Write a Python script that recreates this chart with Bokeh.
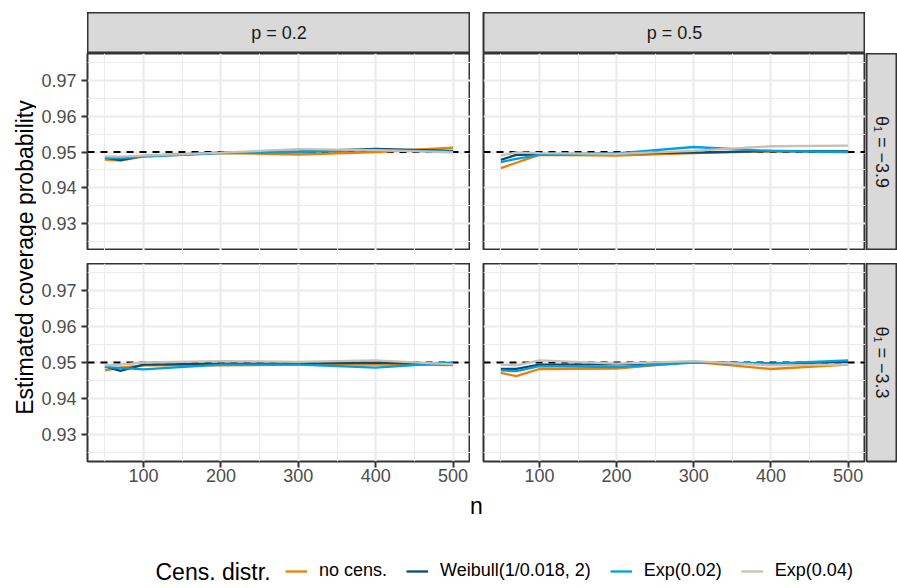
import math
from bokeh.plotting import figure
from bokeh.layouts import column, row
from bokeh.models import (Range1d, FixedTicker, NumeralTickFormatter, Span, Label,
                          Legend, LegendItem, Spacer)
from bokeh.embed import file_html
from bokeh.resources import INLINE

# ---- data -------------------------------------------------------------
n = [50, 70, 100, 200, 300, 400, 500]

cens_labels = ["no cens.", "Weibull(1/0.018, 2)", "Exp(0.02)", "Exp(0.04)"]
cens_colors = ["#EE7F00", "#0B4A72", "#00A0E3", "#C8C0B2"]

# p = 0.2, theta1 = -3.9
p02_t39_nocens = [0.9479, 0.9476, 0.9488, 0.9497, 0.9493, 0.9500, 0.9512]
p02_t39_weibull = [0.9484, 0.9477, 0.9489, 0.9498, 0.9502, 0.9509, 0.9503]
p02_t39_exp002 = [0.9483, 0.9483, 0.9487, 0.9497, 0.9500, 0.9506, 0.9501]
p02_t39_exp004 = [0.9488, 0.9487, 0.9490, 0.9498, 0.9508, 0.9505, 0.9499]

# p = 0.5, theta1 = -3.9
p05_t39_nocens = [0.9455, 0.9470, 0.9492, 0.9490, 0.9497, 0.9502, 0.9502]
p05_t39_weibull = [0.9478, 0.9492, 0.9493, 0.9496, 0.9498, 0.9503, 0.9502]
p05_t39_exp002 = [0.9472, 0.9481, 0.9492, 0.9496, 0.9514, 0.9503, 0.9500]
p05_t39_exp004 = [0.9490, 0.9499, 0.9497, 0.9495, 0.9503, 0.9516, 0.9518]

# p = 0.2, theta1 = -3.3
p02_t33_nocens = [0.9478, 0.9486, 0.9492, 0.9492, 0.9494, 0.9495, 0.9493]
p02_t33_weibull = [0.9489, 0.9477, 0.9494, 0.9497, 0.9497, 0.9500, 0.9495]
p02_t33_exp002 = [0.9487, 0.9485, 0.9481, 0.9494, 0.9494, 0.9486, 0.9500]
p02_t33_exp004 = [0.9492, 0.9494, 0.9500, 0.9504, 0.9502, 0.9506, 0.9495]

# p = 0.5, theta1 = -3.3
p05_t33_nocens = [0.9471, 0.9462, 0.9482, 0.9483, 0.9502, 0.9482, 0.9494]
p05_t33_weibull = [0.9482, 0.9482, 0.9494, 0.9495, 0.9500, 0.9497, 0.9502]
p05_t33_exp002 = [0.9478, 0.9476, 0.9490, 0.9487, 0.9500, 0.9497, 0.9506]
p05_t33_exp004 = [0.9494, 0.9492, 0.9506, 0.9497, 0.9504, 0.9492, 0.9494]

nominal = 0.95
col_labels = ["p = 0.2", "p = 0.5"]
row_labels = ["\u03b8\u2081 = \u22123.9", "\u03b8\u2081 = \u22123.3"]

x_ticks = [100, 200, 300, 400, 500]
x_minor = [50, 150, 250, 350, 450]
y_ticks = [0.93, 0.94, 0.95, 0.96, 0.97]
y_minor = [0.925, 0.935, 0.945, 0.955, 0.965, 0.975]

# ---- styling ----------------------------------------------------------
FONT = "Liberation Sans"
GRID = "#EBEBEB"
BORDER = "#333333"
STRIP = "#D9D9D9"

LEFT_W = 36          # y-title column
AXIS_W = 51          # y tick-label area
GAP = 13
FW_L, FW_R = 383, 382
STRIP_W = 31
STRIP_H = 41
FH_TOP, FH_BOT = 197, 198
AXIS_H = 30
TOP_PAD = 12
TOTAL_W, TOTAL_H = 897, 588


def panel(series, left_axis, bottom_axis, frame_h, min_left):
    p = figure(frame_width=FW_L if left_axis else FW_R, frame_height=frame_h,
               x_range=Range1d(27.5, 522.5), y_range=Range1d(0.9225, 0.9775),
               x_axis_location="below" if bottom_axis else None,
               y_axis_location="left" if left_axis else None,
               toolbar_location=None, output_backend="svg",
               min_border_left=min_left, min_border_right=0, min_border_top=0,
               min_border_bottom=AXIS_H if bottom_axis else 0)
    p.background_fill_color = "white"
    p.border_fill_color = "white"
    p.outline_line_color = BORDER
    p.outline_line_width = 2

    p.xgrid.ticker = FixedTicker(ticks=x_ticks, minor_ticks=x_minor)
    p.ygrid.ticker = FixedTicker(ticks=y_ticks, minor_ticks=y_minor)
    for g in (p.xgrid, p.ygrid):
        g.grid_line_color = GRID
        g.grid_line_width = 2.2
        g.minor_grid_line_color = GRID
        g.minor_grid_line_width = 1.1

    axes = []
    if left_axis:
        p.yaxis.ticker = FixedTicker(ticks=y_ticks, minor_ticks=y_minor)
        p.yaxis.formatter = NumeralTickFormatter(format="0.00")
        p.yaxis.major_label_standoff = 5
        axes.append(p.yaxis)
    if bottom_axis:
        p.xaxis.ticker = FixedTicker(ticks=x_ticks, minor_ticks=x_minor)
        p.xaxis.formatter = NumeralTickFormatter(format="0")
        p.xaxis.major_label_standoff = 1
        axes.append(p.xaxis)
    for ax in axes:
        ax.axis_line_color = None
        ax.major_tick_line_color = BORDER
        ax.major_tick_line_width = 2
        ax.major_tick_out = 6
        ax.major_tick_in = 0
        ax.minor_tick_line_color = None
        ax.major_label_text_font = FONT
        ax.major_label_text_font_size = "18px"
        ax.major_label_text_color = "#4D4D4D"

    ref = Span(location=nominal, dimension="width", line_color="black",
               line_width=1.8, line_dash="7 6", level="underlay")
    p.add_layout(ref)

    for vals, c in zip(series, cens_colors):
        p.line(n, vals, line_color=c, line_width=2.3)
    return p


def strip(text, fw, fh, vertical=False, min_left=0, min_bottom=0):
    s = figure(frame_width=fw, frame_height=fh,
               x_range=Range1d(0, 1), y_range=Range1d(0, 1),
               x_axis_location=None, y_axis_location=None,
               toolbar_location=None, output_backend="svg",
               min_border_left=min_left, min_border_right=0,
               min_border_top=0, min_border_bottom=min_bottom)
    s.grid.visible = False
    s.background_fill_color = STRIP
    s.border_fill_color = "white"
    s.outline_line_color = BORDER
    s.outline_line_width = 2
    s.add_layout(Label(x=0.5, y=0.5, text=text, text_align="center",
                       text_baseline="middle",
                       angle=-math.pi / 2 if vertical else 0,
                       text_font=FONT, text_font_size="18px",
                       text_color="#1A1A1A"))
    return s


tl = panel([p02_t39_nocens, p02_t39_weibull, p02_t39_exp002, p02_t39_exp004],
           True, False, FH_TOP, AXIS_W)
tr = panel([p05_t39_nocens, p05_t39_weibull, p05_t39_exp002, p05_t39_exp004],
           False, False, FH_TOP, GAP)
bl = panel([p02_t33_nocens, p02_t33_weibull, p02_t33_exp002, p02_t33_exp004],
           True, True, FH_BOT, AXIS_W)
br = panel([p05_t33_nocens, p05_t33_weibull, p05_t33_exp002, p05_t33_exp004],
           False, True, FH_BOT, GAP)

top_strips = row(Spacer(width=AXIS_W, height=STRIP_H),
                 strip(col_labels[0], FW_L, STRIP_H),
                 strip(col_labels[1], FW_R, STRIP_H, min_left=GAP),
                 Spacer(width=1 + STRIP_W, height=STRIP_H))
s_top = strip(row_labels[0], STRIP_W, FH_TOP, vertical=True, min_left=1)
s_bot = strip(row_labels[1], STRIP_W, FH_BOT, vertical=True, min_left=1,
              min_bottom=AXIS_H)

grid_h = STRIP_H + FH_TOP + GAP + FH_BOT + AXIS_H
panels = column(top_strips,
                row(tl, tr, s_top),
                Spacer(width=TOTAL_W - LEFT_W, height=GAP),
                row(bl, br, s_bot))

# shared y title
ylab = figure(width=LEFT_W, height=grid_h, x_range=Range1d(0, LEFT_W),
              y_range=Range1d(0, grid_h), x_axis_location=None,
              y_axis_location=None, toolbar_location=None,
              output_backend="svg", min_border=0)
ylab.grid.visible = False
ylab.outline_line_color = None
ylab.add_layout(Label(x=24, y=grid_h - (257 - TOP_PAD),
                      text="Estimated coverage probability",
                      angle=math.pi / 2, text_align="center",
                      text_baseline="middle", text_font=FONT,
                      text_font_size="23px", text_color="black"))

# x title + legend
bot_h = TOTAL_H - TOP_PAD - grid_h
bot = figure(width=TOTAL_W, height=bot_h, x_range=Range1d(0, TOTAL_W),
             y_range=Range1d(0, bot_h), x_axis_location=None,
             y_axis_location=None, toolbar_location=None,
             output_backend="svg", min_border=0)
bot.grid.visible = False
bot.outline_line_color = None
# the legend's renderers share the panels' data scale, which sits off this frame
bot.extra_x_ranges = {"n": Range1d(27.5, 522.5)}
bot.extra_y_ranges = {"cov": Range1d(0.99, 1.0)}
bot.add_layout(Label(x=476, y=TOTAL_H - 505, text="n", text_align="center",
                     text_baseline="alphabetic", text_font=FONT,
                     text_font_size="23px", text_color="black"))
bot.add_layout(Label(x=155, y=TOTAL_H - 571, text="Cens. distr.",
                     text_align="left", text_baseline="middle",
                     text_font=FONT, text_font_size="23px",
                     text_color="black"))
items = []
for lab, c, vals in zip(cens_labels, cens_colors,
                        [p02_t39_nocens, p02_t39_weibull,
                         p02_t39_exp002, p02_t39_exp004]):
    r = bot.line(x=n, y=vals, line_color=c, line_width=2.3,
                 x_range_name="n", y_range_name="cov")
    items.append(LegendItem(label=lab, renderers=[r]))
legend = Legend(items=items, orientation="horizontal",
                location=(285, TOTAL_H - 571 - 10),
                label_text_font=FONT, label_text_font_size="18px",
                label_text_color="black", glyph_width=22, glyph_height=20,
                label_height=20, label_standoff=12, spacing=19, padding=0,
                margin=0, border_line_color=None, background_fill_alpha=0)
bot.add_layout(legend)

layout = column(Spacer(width=TOTAL_W, height=TOP_PAD),
                row(ylab, panels),
                bot)

open("out.html", "w").write(file_html(layout, INLINE))
